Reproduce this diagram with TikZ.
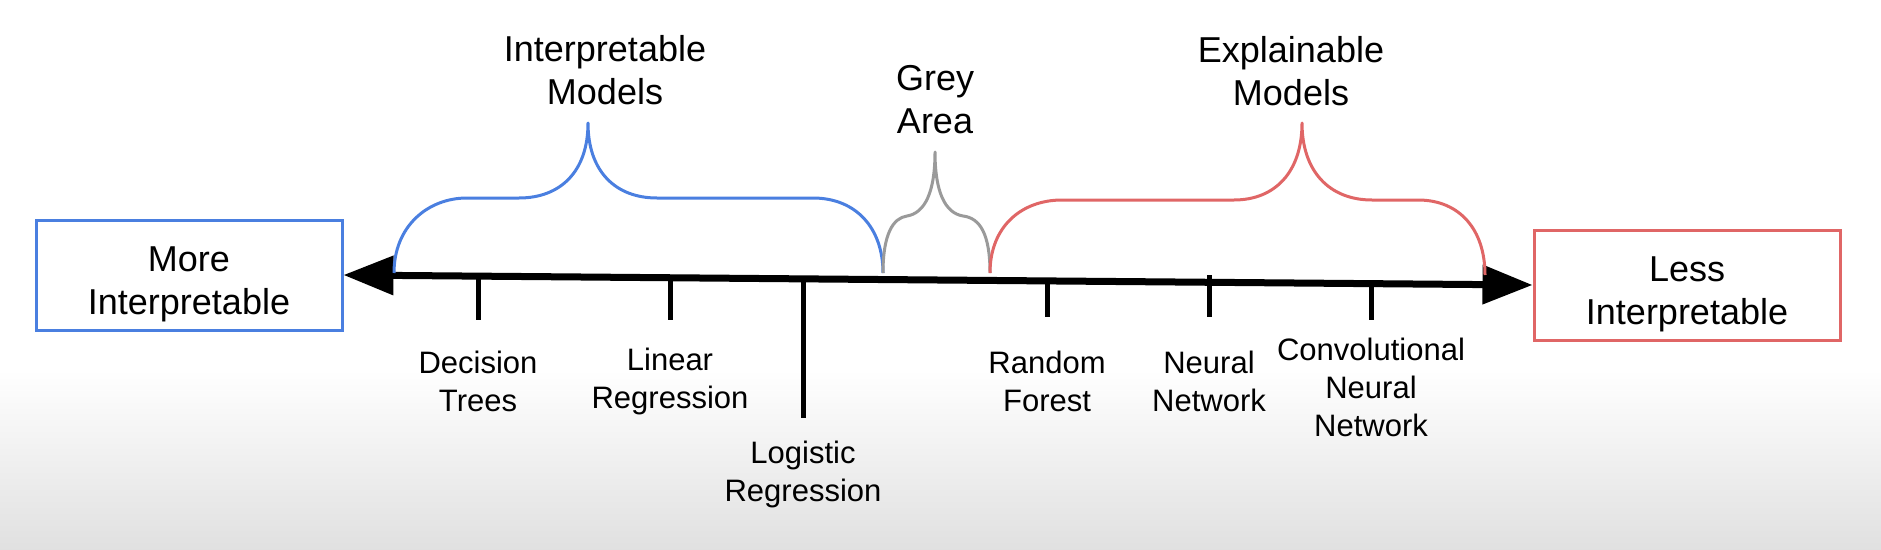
\documentclass[tikz,border=0pt]{standalone}
\usepackage{fontspec}
\setmainfont{Liberation Sans}
\usetikzlibrary{arrows.meta,positioning}

\definecolor{imblue}{HTML}{4A7FE0}
\definecolor{exred}{HTML}{E06666}
\definecolor{greyarea}{HTML}{9A9A9A}
\newcommand{\bigfont}{\fontsize{36}{43}\selectfont}
\newcommand{\smallfont}{\fontsize{31}{38}\selectfont}

\begin{document}
\begin{tikzpicture}[x=1pt, y=-1pt, >={Triangle[length=50pt,width=38pt]},
    endbox/.style={draw, line width=3pt, inner sep=4pt, minimum width=306pt, minimum height=110pt, align=center, font=\bigfont},
    grouplabel/.style={align=center, font=\bigfont},
    model/.style={align=center, font=\smallfont},
    modeltick/.style={line width=5pt},
    brace/.style={line width=3pt, line join=round}]
    % Background
    \fill [white] (0,0) rectangle (1881,549);
    \shade [top color=white, bottom color=black!12] (0,370) rectangle (1881,549);
    \useasboundingbox (0,0) rectangle (1881,549);

    % End boxes {more, less}
    \node [endbox, draw=imblue] (more) at (189,275)  {\mbox{}\\More\\Interpretable};
    \node [endbox, draw=exred]  (less) at (1687,285) {\mbox{}\\Less\\Interpretable};

    % Axis
    \draw [line width=7pt, <->] (more.east) -- (less.west);

    % Braces
    \draw [brace, imblue] (394,273) .. controls (394,226) and (428,198) .. (467,198) -- (519,198)
        .. controls (560,198) and (588,172) .. (588,123) .. controls (588,172) and (616,198) .. (657,198)
        -- (813,198) .. controls (856,198) and (883,228) .. (883,273);
    \draw [brace, greyarea] (883,273) .. controls (883,234) and (893,218) .. (907,216)
        .. controls (925,213) and (935,192) .. (935,152) .. controls (935,192) and (945,213) .. (963,216)
        .. controls (980,218) and (990,234) .. (990,273);
    \draw [brace, exred] (990,273) .. controls (990,226) and (1022,200) .. (1062,200) -- (1234,200)
        .. controls (1275,200) and (1302,172) .. (1302,123) .. controls (1302,172) and (1330,200) .. (1372,200)
        -- (1418,200) .. controls (1460,200) and (1485,230) .. (1485,275);

    % Group labels
    \node [grouplabel] (interp) at (605,70)  {Interpretable\\Models};
    \node [grouplabel] (grey)   at (935,100) {Grey\\Area};
    \node [grouplabel] (expl)   at (1291,71) {Explainable\\Models};

    % Ticks
    \foreach \x/\top/\bot in {478/275/320, 670/277/320, 803/278/418, 1047/280/317, 1209/275/317, 1371/283/320}
        \draw [modeltick] (\x,\top) -- (\x,\bot);

    % Models
    \node [model] (dt)   at (478,381)  {Decision\\Trees};
    \node [model] (lr)   at (670,381)  {Linear\\Regression};
    \node [model] (logr) at (803,474)  {Logistic\\Regression};
    \node [model] (rf)   at (1047,381) {Random\\Forest};
    \node [model] (nn)   at (1209,381) {Neural\\Network};
    \node [model] (cnn)  at (1371,387) {Convolutional\\Neural\\Network};
\end{tikzpicture}
\end{document}
